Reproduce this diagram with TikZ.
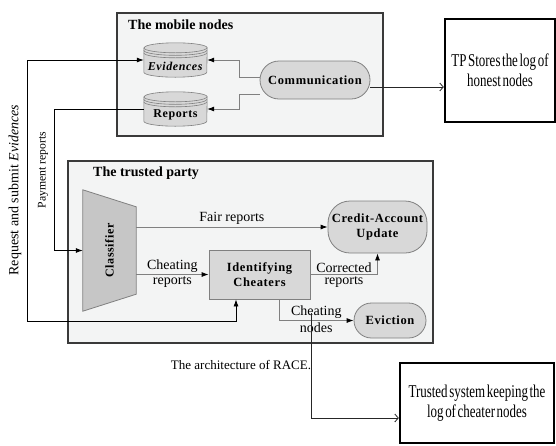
\documentclass[tikz,border=0pt]{standalone}
\usepackage{fontspec}
\setmainfont{Liberation Serif}
\newfontfamily\narrowfont[FakeStretch=0.72,WordSpace=0.5]{Liberation Serif}
\newfontfamily\spacedfont[LetterSpace=5]{Liberation Serif}
\usetikzlibrary{positioning,calc,arrows.meta}

\definecolor{boxbg}{HTML}{F3F4F4}
\definecolor{nodebg}{HTML}{D8D8D8}
\definecolor{clsbg}{HTML}{C6C6C6}
\definecolor{edgegray}{HTML}{808080}
\definecolor{framegray}{HTML}{3A3A3A}

\tikzset{
  group/.style={draw=framegray,fill=boxbg,line width=1.3pt},
  grouptitle/.style={anchor=west,inner sep=0pt,font=\fontsize{14}{16}\selectfont\bfseries},
  pill/.style={draw=edgegray,fill=nodebg,line width=0.8pt,rounded corners=#1,align=center,
    inner sep=0pt,font=\spacedfont\fontsize{12.5}{15}\selectfont\bfseries},
  pill/.default=17pt,
  proc/.style={draw=edgegray,fill=nodebg,line width=0.8pt,align=center,inner sep=0pt,
    font=\spacedfont\fontsize{12.5}{15}\selectfont\bfseries},
  disk/.style={minimum width=63pt,minimum height=34pt,inner sep=0pt},
  disktext/.style={inner sep=0pt,font=\spacedfont\fontsize{12}{14}\selectfont\bfseries},
  diskline/.style={draw=edgegray,line width=0.6pt},
  flow/.style={draw=edgegray,line width=0.8pt,-{Latex[black,length=7pt,width=5pt]}},
  link/.style={draw=black,line width=0.8pt,-{Latex[length=7pt,width=5pt]}},
  bothway/.style={draw=black,line width=0.8pt,{Latex[length=7pt,width=5pt]}-{Latex[length=7pt,width=5pt]}},
  logflow/.style={draw=black!85,line width=0.8pt,-{Straight Barb[length=3.5pt,width=8pt]}},
  logbox/.style={draw=black,line width=2.4pt,fill=white,align=center,inner sep=0pt,
    font=\narrowfont\fontsize{18}{20}\selectfont},
  edgelabel/.style={inner sep=1.8pt,font=\fontsize{14}{15}\selectfont},
  sidelabel/.style={rotate=90,inner sep=0pt}
}

% stacked disk drawn round an empty node
\newcommand{\dbstack}[1]{%
  \draw[diskline,fill=nodebg] ([yshift=-5pt]#1.north west) -- ([yshift=5pt]#1.south west)
    arc[start angle=180,end angle=360,x radius=31.5pt,y radius=5pt]
    -- ([yshift=-5pt]#1.north east)
    arc[start angle=0,end angle=180,x radius=31.5pt,y radius=5pt] -- cycle;
  \foreach \s in {0,2.5,5}
    \draw[diskline] ([yshift={-5-\s}]#1.north west)
      arc[start angle=180,end angle=360,x radius=31.5pt,y radius=5pt];
}

\begin{document}
\begin{tikzpicture}[x=1pt,y=1pt]
  \useasboundingbox (0,0) rectangle (556,-445);

  % the two groups
  \draw[group] (117,-13) rectangle (383,-136);
  \node[grouptitle] (mobtitle) at (128,-25) {The mobile nodes};
  \draw[group] (68,-161) rectangle (433,-343);
  \node[grouptitle] (tptitle) at (93,-173) {The trusted party};

  % mobile nodes
  \node[disk] (ev) at (175.5,-60) {};
  \dbstack{ev}
  \node[disktext] (evtxt) at ([yshift=-6pt]ev.center) {\textit{Evidences}};
  \node[disk] (rep) at (175.5,-109) {};
  \dbstack{rep}
  \node[disktext] (reptxt) at ([yshift=-6pt]rep.center) {Reports};
  \node[pill=19pt,minimum width=110pt,minimum height=38pt] (comm) at (315,-80) {Communication};

  \node[logbox,minimum width=110pt,minimum height=103pt] (tplog) at (500,-70.5) {TP Stores the log of\\honest nodes};

  % trusted party
  \node[minimum width=53pt,minimum height=121pt,inner sep=0pt] (cls) at (109.5,-250.5) {};
  \draw[draw=edgegray,fill=clsbg,line width=0.8pt] (cls.north west) -- ([yshift=-17pt]cls.north east)
    -- ([yshift=17pt]cls.south east) -- (cls.south west) -- cycle;
  \node[disktext,rotate=90] (clstxt) at (cls.center) {Classifier};
  \node[pill=22pt,minimum width=99pt,minimum height=52pt] (cred) at (377.5,-227) {Credit-Account\\Update};
  \node[proc,minimum width=101pt,minimum height=49pt] (ident) at (259.5,-274.5) {Identifying\\Cheaters};
  \node[pill=17.5pt,minimum width=72pt,minimum height=35pt] (evic) at (390,-320.5) {Eviction};

  \node[logbox,minimum width=154pt,minimum height=80pt] (tsys) at (477,-403) {Trusted system keeping the\\log of cheater nodes};

  \node[font=\fontsize{13}{15}\selectfont] (caption) at (241,-365) {The architecture of RACE.};

  % inside the mobile nodes
  \coordinate (split) at (239,0);
  \draw[flow] ([yshift=3pt]comm.west) -| (split |- ev.east) -- (ev.east);
  \draw[flow] ([yshift=-14pt]comm.west) -| (split |- rep.east) -- (rep.east);
  \coordinate (commout) at ([yshift=-7pt]comm.east);
  \draw[logflow] (commout) -- (commout -| tplog.west);

  % left side loops
  \coordinate (reqx) at (27,0);
  \coordinate (reqy) at (0,-321);
  \draw[bothway] (ev.west) -| (reqx |- reqy) -| ([xshift=-23.5pt]ident.south);
  \node[sidelabel,font=\fontsize{14}{16}\selectfont] (reqlabel) at (15,-190) {Request and submit \textit{Evidences}};
  \coordinate (payx) at (54,0);
  \draw[link] (rep.west) -| (payx |- cls.west) -- (cls.west);
  \node[sidelabel,font=\fontsize{11.7}{14}\selectfont] (paylabel) at (43,-170) {Payment reports};

  % inside the trusted party
  \draw[flow] (cls.east |- cred.west) -- node[edgelabel,above] (fairlabel) {Fair reports} (cred.west);
  \draw[flow] (cls.east |- ident.west) -- node[edgelabel,above] (cheatlabel) {Cheating}
    node[edgelabel,below] (cheatlabel2) {reports} (ident.west);
  \draw[flow] (ident.east) -| node[edgelabel,above,pos=0.25] (corrlabel) {Corrected}
    node[edgelabel,below,pos=0.25] (corrlabel2) {reports} (cred.south);
  \draw[flow] ([xshift=19.5pt]ident.south) |- node[edgelabel,above,pos=0.75] (nodeslabel) {Cheating}
    node[edgelabel,below,pos=0.75] (nodeslabel2) {nodes} (evic.west);

  % to the log of cheaters
  \coordinate (cheatdrop) at (311,-313);
  \coordinate (tsysin) at ([yshift=-15pt]tsys.west);
  \draw[logflow] (cheatdrop) |- (tsysin);
\end{tikzpicture}
\end{document}
